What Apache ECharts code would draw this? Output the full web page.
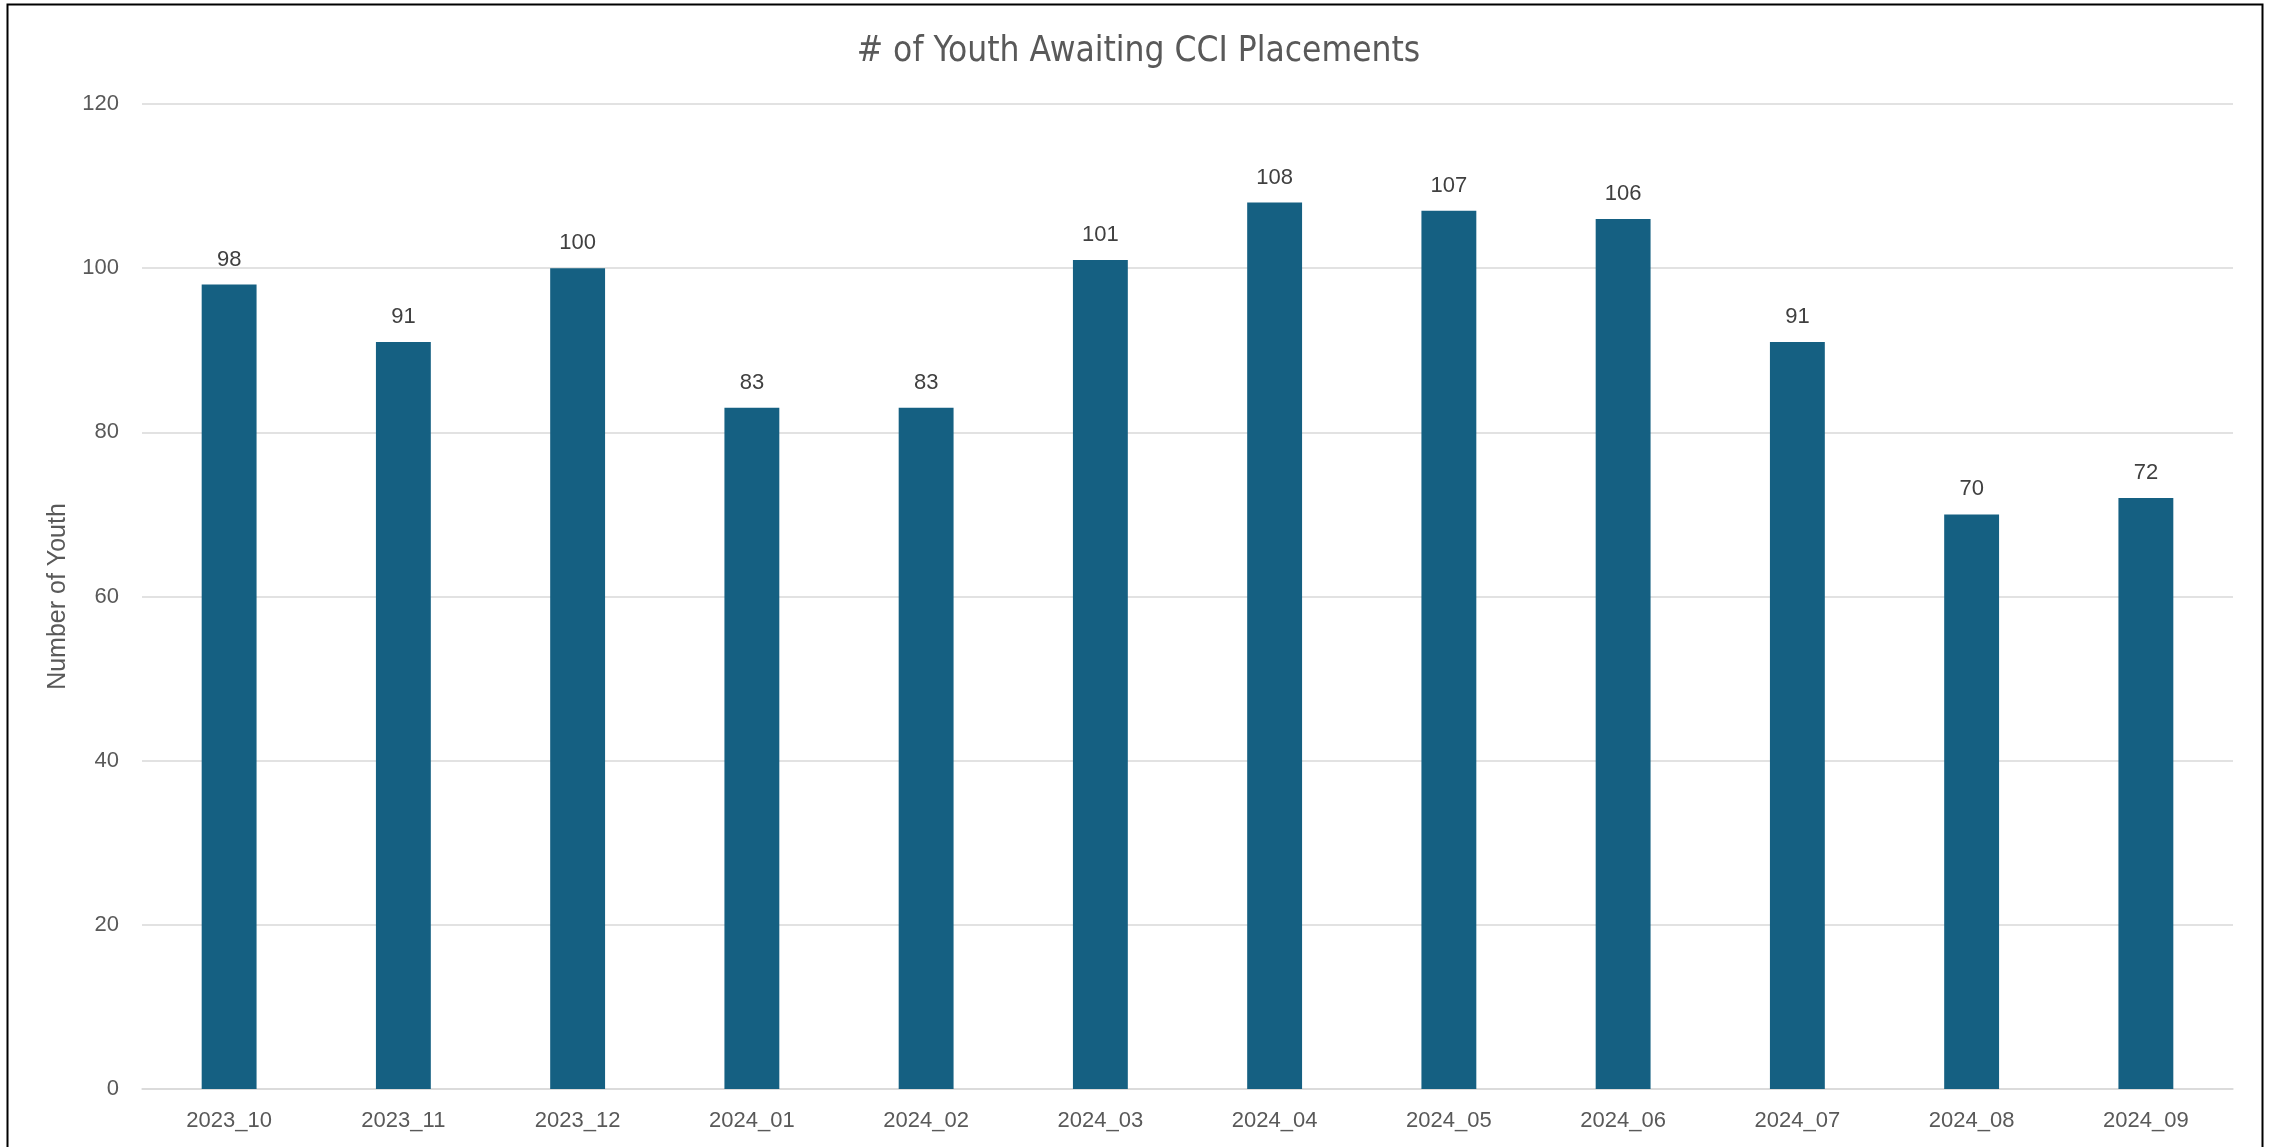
<!DOCTYPE html>
<html>
<head>
<meta charset="utf-8">
<script src="https://cdn.jsdelivr.net/npm/echarts@6/dist/echarts.min.js"></script>
<style>
html,body{margin:0;padding:0;background:#fff;}
#chart{width:2277px;height:1147px;}
</style>
</head>
<body>
<div id="chart"></div>
<script>
const categories = ['2023_10','2023_11','2023_12','2024_01','2024_02','2024_03','2024_04','2024_05','2024_06','2024_07','2024_08','2024_09'];
const youthValues = [98, 91, 100, 83, 83, 101, 108, 107, 106, 91, 70, 72];
const yTicks = {min: 0, max: 120, interval: 20};

const chart = echarts.init(document.getElementById('chart'), null, {renderer: 'canvas'});
const labelFont = '"Liberation Sans", Arial, sans-serif';
chart.setOption({
  animation: false,
  backgroundColor: '#ffffff',
  title: {
    text: '# of Youth Awaiting CCI Placements',
    left: 'center',
    top: 29,
    textStyle: {
      fontFamily: '"Liberation Sans Narrow", "DejaVu Sans Condensed", "Liberation Sans", sans-serif',
      fontSize: 35,
      fontWeight: 'normal',
      color: '#595959'
    }
  },
  graphic: [{
    type: 'rect',
    shape: {x: 7.5, y: 4.5, width: 2255, height: 1200},
    style: {fill: 'none', stroke: '#000000', lineWidth: 2},
    silent: true
  }],
  grid: {left: 142, right: 44, top: 104, bottom: 58, containLabel: false},
  xAxis: {
    type: 'category',
    data: categories,
    axisLine: {show: true, lineStyle: {color: '#D9D9D9', width: 1.5}},
    axisTick: {show: false},
    axisLabel: {color: '#595959', fontSize: 22, fontFamily: labelFont, margin: 21}
  },
  yAxis: {
    type: 'value',
    min: yTicks.min,
    max: yTicks.max,
    interval: yTicks.interval,
    name: 'Number of Youth',
    nameLocation: 'middle',
    nameGap: 71,
    nameRotate: 90,
    nameTextStyle: {color: '#595959', fontSize: 25, fontFamily: labelFont},
    axisLine: {show: false},
    axisTick: {show: false},
    axisLabel: {color: '#595959', fontSize: 22, fontFamily: labelFont, margin: 23},
    splitLine: {lineStyle: {color: '#D9D9D9', width: 1.5}}
  },
  series: [{
    type: 'bar',
    data: youthValues,
    barWidth: '31.5%',
    itemStyle: {color: '#156082'},
    label: {
      show: true,
      position: 'top',
      distance: 14,
      color: '#404040',
      fontSize: 22,
      fontFamily: labelFont
    }
  }]
});
</script>
</body>
</html>
